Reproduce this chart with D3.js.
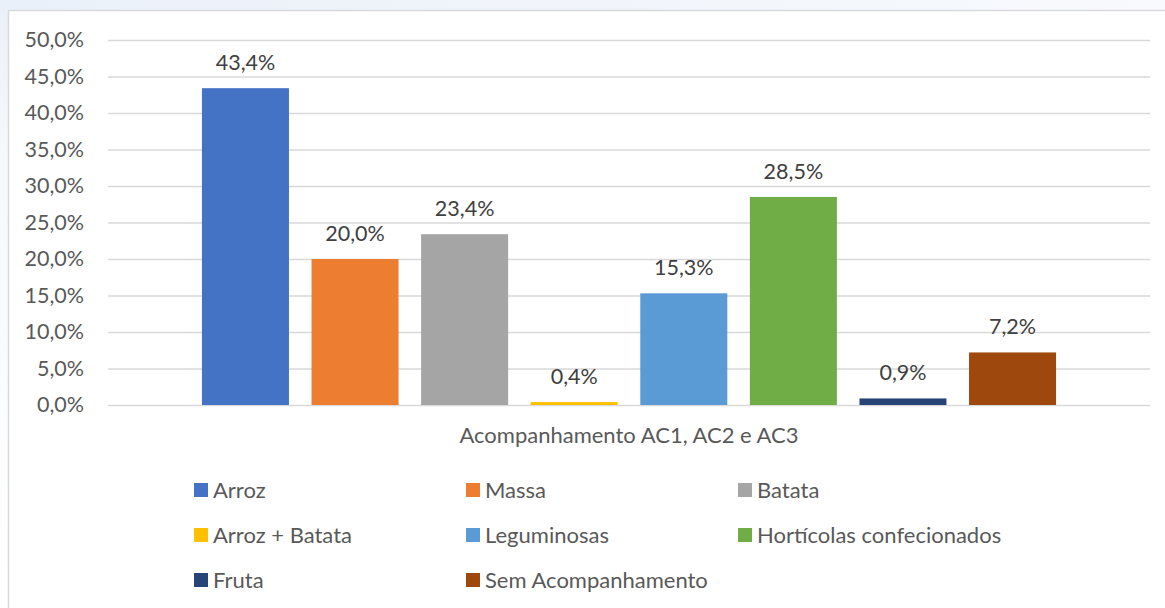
<!DOCTYPE html>
<html><head><meta charset="utf-8">
<script src="https://cdn.jsdelivr.net/npm/d3@7"></script>
<style>html,body{margin:0;padding:0;background:#fff;}svg{display:block;}</style>
</head><body>
<svg id="c" width="1165" height="608"></svg>
<script>
const category = "Acompanhamento AC1, AC2 e AC3";
const seriesNames = ["Arroz","Massa","Batata","Arroz + Batata","Leguminosas","Hortícolas confecionados","Fruta","Sem Acompanhamento"];
const seriesValues = [43.4, 20.0, 23.4, 0.4, 15.3, 28.5, 0.9, 7.2];
const seriesColors = ["#4472C4","#ED7D31","#A5A5A5","#FFC000","#5B9BD5","#70AD47","#264478","#9E480E"];
const yTicks = [0,5,10,15,20,25,30,35,40,45,50];

const FONT = "Lato, 'Open Sans', sans-serif";
const svg = d3.select("#c");
const fmt = v => d3.format(".1f")(v).replace(".", ",") + "%";

// background
const defs = svg.append("defs");
const lg = defs.append("linearGradient").attr("id","lft").attr("x1",0).attr("y1",0).attr("x2",0).attr("y2",1);
lg.append("stop").attr("offset","0").attr("stop-color","#eaf0f9");
lg.append("stop").attr("offset","0.25").attr("stop-color","#f6f8fc");
lg.append("stop").attr("offset","1").attr("stop-color","#ffffff");
svg.append("rect").attr("x",0).attr("y",0).attr("width",1165).attr("height",608).attr("fill","url(#lft)");
const tg = defs.append("linearGradient").attr("id","top").attr("x1",0).attr("y1",0).attr("x2",1).attr("y2",0);
tg.append("stop").attr("offset","0").attr("stop-color","#eaf0f9");
tg.append("stop").attr("offset","1").attr("stop-color","#f8fafd");
svg.append("rect").attr("x",0).attr("y",0).attr("width",1165).attr("height",10).attr("fill","url(#top)");
svg.append("rect").attr("x",8.5).attr("y",10.5).attr("width",1170).attr("height",620)
  .attr("fill","#fff").attr("stroke","#d9d9d9").attr("stroke-width",1.5);

const plot = {left:108, right:1150, top:40, bottom:405};
const y = d3.scaleLinear().domain([0,50]).range([plot.bottom, plot.top]);
const x0 = d3.scaleBand().domain([category]).range([plot.left, plot.right]).paddingOuter(0.11);
const x1 = d3.scaleBand().domain(seriesNames).range([x0(category), x0(category)+x0.bandwidth()]).paddingInner(0.206);

// gridlines
const yAxis = d3.axisLeft(y).tickValues(yTicks).tickSize(-(plot.right-plot.left)).tickFormat(fmt);
const ga = svg.append("g").attr("transform",`translate(${plot.left},0)`).call(yAxis);
ga.select(".domain").remove();
ga.selectAll(".tick line").attr("stroke","#d9d9d9").attr("stroke-width",1.5);
ga.selectAll(".tick text").attr("x",-24).attr("fill","#595959").style("font-family",FONT).style("font-size","21.5px");

// bars
svg.append("g").selectAll("rect").data(seriesNames).join("rect")
  .attr("x", d => x1(d)).attr("width", x1.bandwidth())
  .attr("y", (d,i) => y(seriesValues[i])).attr("height", (d,i) => y(0)-y(seriesValues[i]))
  .attr("fill", (d,i) => seriesColors[i]);

// labels
svg.append("g").selectAll("text").data(seriesNames).join("text")
  .attr("x", d => x1(d)+x1.bandwidth()/2).attr("y", (d,i) => y(seriesValues[i]) - 18)
  .attr("text-anchor","middle").attr("fill","#404040")
  .style("font-family",FONT).style("font-size","21.5px")
  .text((d,i) => fmt(seriesValues[i]));

// category axis label
svg.append("text").attr("x", x0(category)+x0.bandwidth()/2).attr("y", 443)
  .attr("text-anchor","middle").attr("fill","#595959")
  .style("font-family",FONT).style("font-size","22px").text(category);

// legend
const colX = [194, 466, 738];
const rowY = [490, 535, 580];
const lgd = svg.append("g").selectAll("g").data(seriesNames).join("g")
  .attr("transform", (d,i) => `translate(${colX[i%3]},${rowY[Math.floor(i/3)]})`);
lgd.append("rect").attr("x",0).attr("y",-7).attr("width",14).attr("height",14).attr("fill",(d,i)=>seriesColors[i]);
lgd.append("text").attr("x",19).attr("y",7.5).attr("fill","#595959")
  .style("font-family",FONT).style("font-size","22px").text(d=>d);
</script>
</body></html>
